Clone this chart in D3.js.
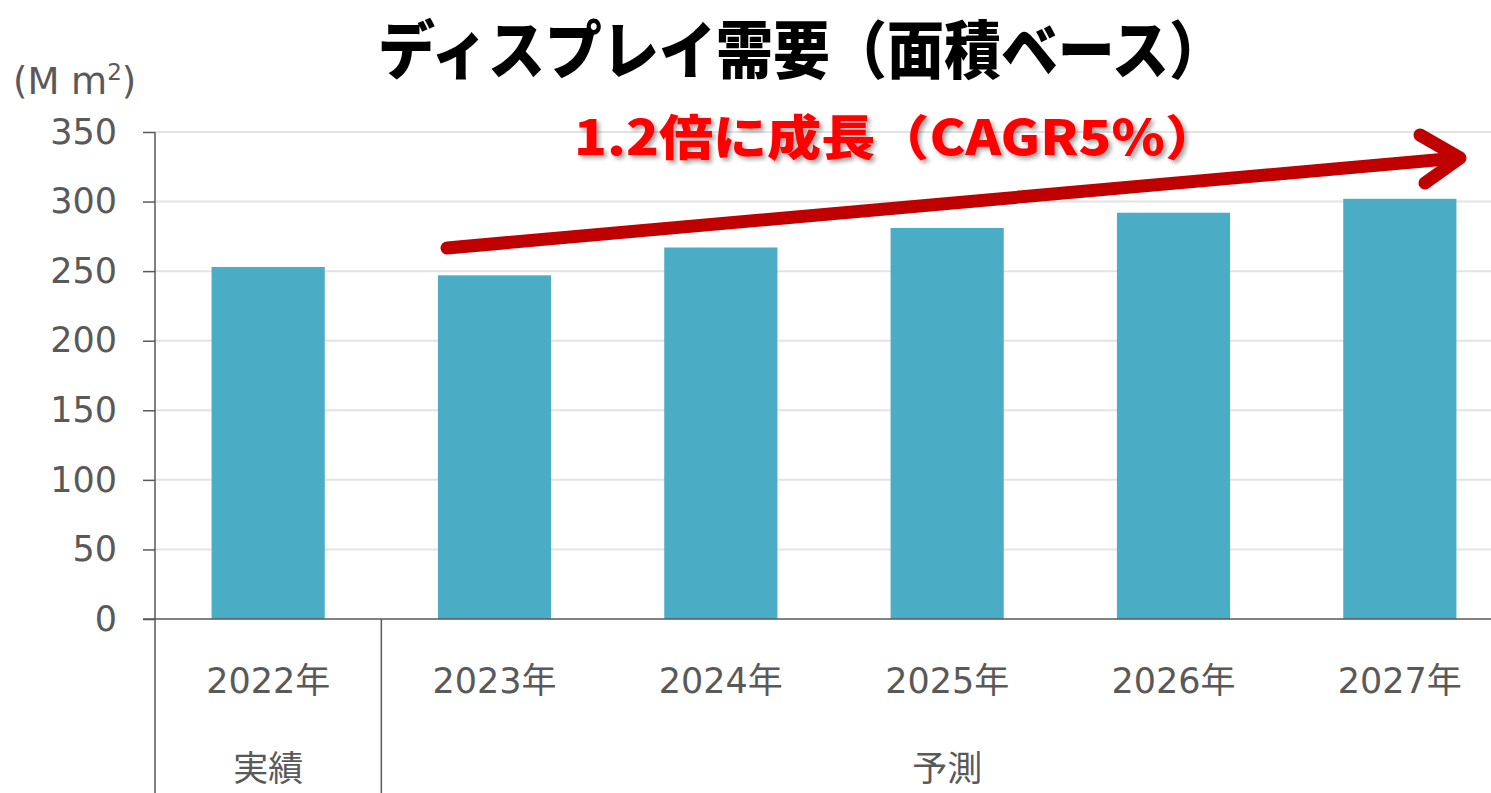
<!DOCTYPE html>
<html>
<head>
<meta charset="utf-8">
<script src="https://cdn.jsdelivr.net/npm/d3@7"></script>
<style>
  body { margin: 0; background: #fff; }
  text { font-family: "DejaVu Sans", "Noto Sans CJK JP", sans-serif; }
</style>
</head>
<body>
<script>
const width = 1491, height = 793;
const margin = { top: 132, right: -22, bottom: 174, left: 155 };

const years = ["2022年", "2023年", "2024年", "2025年", "2026年", "2027年"];
const demand = [253, 247, 267, 281, 292, 302];
const groups = [
  { name: "実績", from: 0, to: 0 },
  { name: "予測", from: 1, to: 5 }
];
const yTicks = [0, 50, 100, 150, 200, 250, 300, 350];

const svg = d3.select("body").append("svg")
  .attr("width", width)
  .attr("height", height);

const x = d3.scaleBand()
  .domain(years)
  .range([margin.left, width - margin.right])
  .paddingInner(0.5)
  .paddingOuter(0.25);

const y = d3.scaleLinear()
  .domain([0, 350])
  .range([height - margin.bottom, margin.top]);

// gridlines
svg.append("g")
  .selectAll("line")
  .data(yTicks.filter(d => d > 0))
  .enter().append("line")
  .attr("x1", margin.left).attr("x2", width)
  .attr("y1", d => y(d)).attr("y2", d => y(d))
  .attr("stroke", "#e3e3e3")
  .attr("stroke-width", 2);

// bars
svg.append("g")
  .selectAll("rect")
  .data(demand)
  .enter().append("rect")
  .attr("x", (d, i) => x(years[i]))
  .attr("y", d => y(d))
  .attr("width", x.bandwidth())
  .attr("height", d => y(0) - y(d))
  .attr("fill", "#4bacc6");

// y axis
const yAxis = svg.append("g")
  .attr("transform", "translate(" + margin.left + ",0)")
  .call(d3.axisLeft(y).tickValues(yTicks).tickSize(12).tickPadding(26));
yAxis.select(".domain").remove();
yAxis.selectAll(".tick line").attr("stroke", "#595959").attr("stroke-width", 1.5);
yAxis.selectAll(".tick text")
  .attr("fill", "#595959")
  .style("font-size", "35px");

svg.append("line")
  .attr("x1", margin.left).attr("x2", margin.left)
  .attr("y1", margin.top).attr("y2", height)
  .attr("stroke", "#595959").attr("stroke-width", 1.5);

// baseline
svg.append("line")
  .attr("x1", margin.left - 12).attr("x2", width)
  .attr("y1", y(0)).attr("y2", y(0))
  .attr("stroke", "#595959").attr("stroke-width", 1.5);

// unit label
const unit = svg.append("text")
  .attr("x", 13).attr("y", 94)
  .attr("fill", "#595959")
  .style("font-size", "37px")
  .text("(M m");
unit.append("tspan").attr("dy", -14).style("font-size", "23px").text("2");
unit.append("tspan").attr("dy", 14).text(")");

// category labels
svg.append("g")
  .selectAll("text")
  .data(years)
  .enter().append("text")
  .attr("x", d => x(d) + x.bandwidth() / 2)
  .attr("y", 693)
  .attr("text-anchor", "middle")
  .attr("fill", "#595959")
  .style("font-size", "35px")
  .text(d => d);

// group separators and labels
const step = x.step();
const gStart = i => x(years[i]) - step * 0.25;
const gEnd = i => x(years[i]) + x.bandwidth() + step * 0.25;

svg.append("g")
  .selectAll("line")
  .data(groups.slice(1))
  .enter().append("line")
  .attr("x1", d => gStart(d.from)).attr("x2", d => gStart(d.from))
  .attr("y1", y(0)).attr("y2", height)
  .attr("stroke", "#595959").attr("stroke-width", 1.5);

svg.append("g")
  .selectAll("text")
  .data(groups)
  .enter().append("text")
  .attr("x", d => (gStart(d.from) + gEnd(d.to)) / 2)
  .attr("y", 781)
  .attr("text-anchor", "middle")
  .attr("fill", "#595959")
  .style("font-size", "35px")
  .style("font-family", "'Noto Sans CJK JP', sans-serif")
  .text(d => d.name);

// title
svg.append("text")
  .attr("x", 378).attr("y", 73)
  .attr("textLength", 848)
  .attr("lengthAdjust", "spacingAndGlyphs")
  .style("font-family", "'Noto Sans CJK JP', sans-serif")
  .style("font-weight", 900)
  .style("font-size", "63px")
  .attr("fill", "#000")
  .text("ディスプレイ需要（面積ベース）");

// growth arrow
const defs = svg.append("defs");
defs.append("filter").attr("id", "shadow")
  .append("feDropShadow")
  .attr("dx", 3).attr("dy", 3).attr("stdDeviation", 2)
  .attr("flood-color", "#000").attr("flood-opacity", 0.35);

const arrow = svg.append("g")
  .attr("fill", "none")
  .attr("stroke", "#c00000")
  .attr("stroke-width", 13)
  .attr("stroke-linecap", "round")
  .attr("stroke-linejoin", "round");
arrow.append("line")
  .attr("x1", 447).attr("y1", 248)
  .attr("x2", 1458).attr("y2", 158);
arrow.append("path")
  .attr("d", "M1420,135 L1460,158 L1425,183");

svg.append("text")
  .attr("x", 574).attr("y", 155)
  .attr("textLength", 645)
  .attr("lengthAdjust", "spacingAndGlyphs")
  .style("font-family", "'Noto Sans CJK JP', sans-serif")
  .style("font-weight", 900)
  .style("font-size", "48px")
  .attr("fill", "#ff0000")
  .attr("filter", "url(#shadow)")
  .text("1.2倍に成長（CAGR5%）");
</script>
</body>
</html>
